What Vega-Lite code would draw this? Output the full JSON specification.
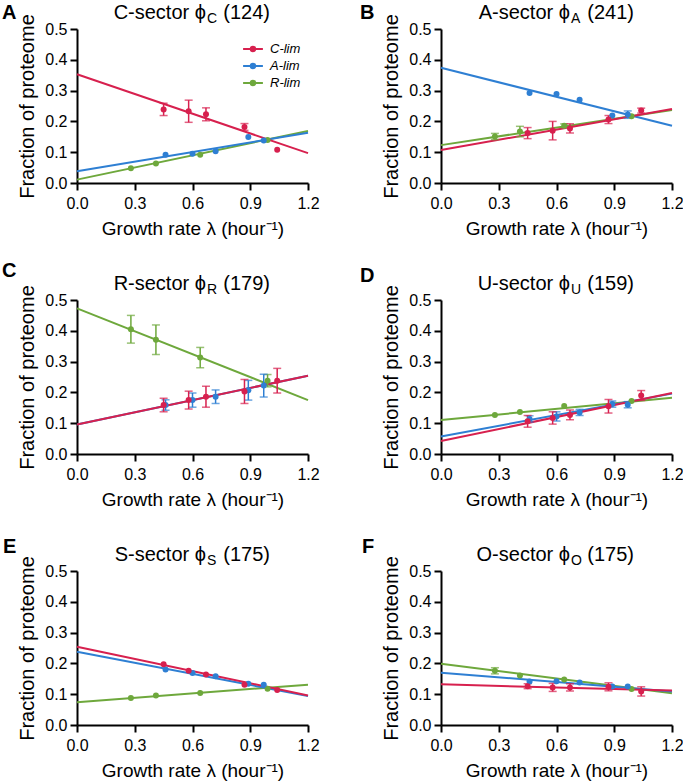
{
  "$schema": "https://vega.github.io/schema/vega-lite/v6.json",
  "padding": {"left": 2, "top": 3, "right": 2, "bottom": 2},
  "config": {
    "font": "Liberation Sans",
    "view": {"stroke": null},
    "axis": {"grid": false, "labelFlush": false, "labelOverlap": false, "domainColor": "black", "domainWidth": 2, "tickColor": "black", "tickWidth": 2, "tickSize": 7, "labelFont": "Liberation Sans", "labelFontSize": 16, "labelColor": "black", "titleFont": "Liberation Sans", "titleFontWeight": "normal", "titleColor": "black"},
    "axisX": {"titlePadding": 8, "titleFontSize": 19, "labelPadding": 5},
    "axisY": {"titlePadding": 7, "titleFontSize": 20, "labelPadding": 3},
    "title": {"anchor": "start", "frame": "group", "fontSize": 20, "fontWeight": "bold", "font": "Liberation Sans", "color": "black", "baseline": "alphabetic"},
    "text": {"font": "Liberation Sans", "color": "black"}
  },
  "datasets": {
    "pts": [
      {"panel": "A", "cond": "R-lim", "x": 0.28, "y": 0.048, "err": 0},
      {"panel": "A", "cond": "R-lim", "x": 0.41, "y": 0.063, "err": 0},
      {"panel": "A", "cond": "R-lim", "x": 0.64, "y": 0.092, "err": 0},
      {"panel": "A", "cond": "R-lim", "x": 0.99, "y": 0.14, "err": 0},
      {"panel": "A", "cond": "A-lim", "x": 0.46, "y": 0.092, "err": 0},
      {"panel": "A", "cond": "A-lim", "x": 0.6, "y": 0.095, "err": 0},
      {"panel": "A", "cond": "A-lim", "x": 0.72, "y": 0.103, "err": 0},
      {"panel": "A", "cond": "A-lim", "x": 0.89, "y": 0.149, "err": 0},
      {"panel": "A", "cond": "A-lim", "x": 0.97, "y": 0.138, "err": 0},
      {"panel": "A", "cond": "C-lim", "x": 0.45, "y": 0.239, "err": 0.02},
      {"panel": "A", "cond": "C-lim", "x": 0.58, "y": 0.233, "err": 0.036},
      {"panel": "A", "cond": "C-lim", "x": 0.67, "y": 0.223, "err": 0.021},
      {"panel": "A", "cond": "C-lim", "x": 0.87, "y": 0.182, "err": 0.011},
      {"panel": "A", "cond": "C-lim", "x": 1.04, "y": 0.108, "err": 0},

      {"panel": "B", "cond": "R-lim", "x": 0.28, "y": 0.151, "err": 0.01},
      {"panel": "B", "cond": "R-lim", "x": 0.41, "y": 0.167, "err": 0.017},
      {"panel": "B", "cond": "R-lim", "x": 0.64, "y": 0.186, "err": 0.006},
      {"panel": "B", "cond": "R-lim", "x": 0.99, "y": 0.217, "err": 0},
      {"panel": "B", "cond": "A-lim", "x": 0.46, "y": 0.292, "err": 0},
      {"panel": "B", "cond": "A-lim", "x": 0.6, "y": 0.289, "err": 0},
      {"panel": "B", "cond": "A-lim", "x": 0.72, "y": 0.27, "err": 0},
      {"panel": "B", "cond": "A-lim", "x": 0.89, "y": 0.219, "err": 0},
      {"panel": "B", "cond": "A-lim", "x": 0.97, "y": 0.222, "err": 0.012},
      {"panel": "B", "cond": "C-lim", "x": 0.45, "y": 0.162, "err": 0.018},
      {"panel": "B", "cond": "C-lim", "x": 0.58, "y": 0.17, "err": 0.03},
      {"panel": "B", "cond": "C-lim", "x": 0.67, "y": 0.177, "err": 0.015},
      {"panel": "B", "cond": "C-lim", "x": 0.87, "y": 0.206, "err": 0.013},
      {"panel": "B", "cond": "C-lim", "x": 1.04, "y": 0.235, "err": 0.008},

      {"panel": "C", "cond": "R-lim", "x": 0.28, "y": 0.405, "err": 0.045},
      {"panel": "C", "cond": "R-lim", "x": 0.41, "y": 0.371, "err": 0.048},
      {"panel": "C", "cond": "R-lim", "x": 0.64, "y": 0.313, "err": 0.033},
      {"panel": "C", "cond": "R-lim", "x": 0.99, "y": 0.238, "err": 0.02},
      {"panel": "C", "cond": "A-lim", "x": 0.46, "y": 0.159, "err": 0.017},
      {"panel": "C", "cond": "A-lim", "x": 0.6, "y": 0.175, "err": 0.023},
      {"panel": "C", "cond": "A-lim", "x": 0.72, "y": 0.186, "err": 0.022},
      {"panel": "C", "cond": "A-lim", "x": 0.89, "y": 0.207, "err": 0.032},
      {"panel": "C", "cond": "A-lim", "x": 0.97, "y": 0.222, "err": 0.037},
      {"panel": "C", "cond": "C-lim", "x": 0.45, "y": 0.159, "err": 0.022},
      {"panel": "C", "cond": "C-lim", "x": 0.58, "y": 0.175, "err": 0.029},
      {"panel": "C", "cond": "C-lim", "x": 0.67, "y": 0.186, "err": 0.034},
      {"panel": "C", "cond": "C-lim", "x": 0.87, "y": 0.203, "err": 0.039},
      {"panel": "C", "cond": "C-lim", "x": 1.04, "y": 0.238, "err": 0.04},

      {"panel": "D", "cond": "R-lim", "x": 0.28, "y": 0.127, "err": 0},
      {"panel": "D", "cond": "R-lim", "x": 0.41, "y": 0.136, "err": 0},
      {"panel": "D", "cond": "R-lim", "x": 0.64, "y": 0.156, "err": 0},
      {"panel": "D", "cond": "R-lim", "x": 0.99, "y": 0.172, "err": 0},
      {"panel": "D", "cond": "A-lim", "x": 0.46, "y": 0.114, "err": 0.01},
      {"panel": "D", "cond": "A-lim", "x": 0.6, "y": 0.122, "err": 0.015},
      {"panel": "D", "cond": "A-lim", "x": 0.72, "y": 0.135, "err": 0.01},
      {"panel": "D", "cond": "A-lim", "x": 0.89, "y": 0.162, "err": 0.01},
      {"panel": "D", "cond": "A-lim", "x": 0.97, "y": 0.16, "err": 0.01},
      {"panel": "D", "cond": "C-lim", "x": 0.45, "y": 0.106, "err": 0.019},
      {"panel": "D", "cond": "C-lim", "x": 0.58, "y": 0.117, "err": 0.02},
      {"panel": "D", "cond": "C-lim", "x": 0.67, "y": 0.127, "err": 0.016},
      {"panel": "D", "cond": "C-lim", "x": 0.87, "y": 0.155, "err": 0.022},
      {"panel": "D", "cond": "C-lim", "x": 1.04, "y": 0.19, "err": 0.016},

      {"panel": "E", "cond": "R-lim", "x": 0.28, "y": 0.088, "err": 0},
      {"panel": "E", "cond": "R-lim", "x": 0.41, "y": 0.096, "err": 0},
      {"panel": "E", "cond": "R-lim", "x": 0.64, "y": 0.104, "err": 0},
      {"panel": "E", "cond": "R-lim", "x": 0.99, "y": 0.118, "err": 0},
      {"panel": "E", "cond": "A-lim", "x": 0.46, "y": 0.18, "err": 0},
      {"panel": "E", "cond": "A-lim", "x": 0.6, "y": 0.169, "err": 0},
      {"panel": "E", "cond": "A-lim", "x": 0.72, "y": 0.158, "err": 0},
      {"panel": "E", "cond": "A-lim", "x": 0.89, "y": 0.134, "err": 0},
      {"panel": "E", "cond": "A-lim", "x": 0.97, "y": 0.131, "err": 0},
      {"panel": "E", "cond": "C-lim", "x": 0.45, "y": 0.197, "err": 0},
      {"panel": "E", "cond": "C-lim", "x": 0.58, "y": 0.176, "err": 0},
      {"panel": "E", "cond": "C-lim", "x": 0.67, "y": 0.164, "err": 0},
      {"panel": "E", "cond": "C-lim", "x": 0.87, "y": 0.131, "err": 0},
      {"panel": "E", "cond": "C-lim", "x": 1.04, "y": 0.114, "err": 0},

      {"panel": "F", "cond": "R-lim", "x": 0.28, "y": 0.176, "err": 0.01},
      {"panel": "F", "cond": "R-lim", "x": 0.41, "y": 0.161, "err": 0},
      {"panel": "F", "cond": "R-lim", "x": 0.64, "y": 0.148, "err": 0},
      {"panel": "F", "cond": "R-lim", "x": 0.99, "y": 0.117, "err": 0},
      {"panel": "F", "cond": "A-lim", "x": 0.46, "y": 0.141, "err": 0},
      {"panel": "F", "cond": "A-lim", "x": 0.6, "y": 0.142, "err": 0},
      {"panel": "F", "cond": "A-lim", "x": 0.72, "y": 0.138, "err": 0},
      {"panel": "F", "cond": "A-lim", "x": 0.89, "y": 0.125, "err": 0},
      {"panel": "F", "cond": "A-lim", "x": 0.97, "y": 0.125, "err": 0},
      {"panel": "F", "cond": "C-lim", "x": 0.45, "y": 0.126, "err": 0.008},
      {"panel": "F", "cond": "C-lim", "x": 0.58, "y": 0.122, "err": 0.013},
      {"panel": "F", "cond": "C-lim", "x": 0.67, "y": 0.122, "err": 0.012},
      {"panel": "F", "cond": "C-lim", "x": 0.87, "y": 0.124, "err": 0.013},
      {"panel": "F", "cond": "C-lim", "x": 1.04, "y": 0.109, "err": 0.015}
    ],
    "fits": [
      {"panel": "A", "cond": "R-lim", "x": 0, "y": 0.011}, {"panel": "A", "cond": "R-lim", "x": 1.2, "y": 0.169},
      {"panel": "A", "cond": "A-lim", "x": 0, "y": 0.038}, {"panel": "A", "cond": "A-lim", "x": 1.2, "y": 0.163},
      {"panel": "A", "cond": "C-lim", "x": 0, "y": 0.353}, {"panel": "A", "cond": "C-lim", "x": 1.2, "y": 0.097},
      {"panel": "B", "cond": "R-lim", "x": 0, "y": 0.123}, {"panel": "B", "cond": "R-lim", "x": 1.2, "y": 0.237},
      {"panel": "B", "cond": "A-lim", "x": 0, "y": 0.374}, {"panel": "B", "cond": "A-lim", "x": 1.2, "y": 0.186},
      {"panel": "B", "cond": "C-lim", "x": 0, "y": 0.107}, {"panel": "B", "cond": "C-lim", "x": 1.2, "y": 0.24},
      {"panel": "C", "cond": "R-lim", "x": 0, "y": 0.473}, {"panel": "C", "cond": "R-lim", "x": 1.2, "y": 0.175},
      {"panel": "C", "cond": "A-lim", "x": 0, "y": 0.096}, {"panel": "C", "cond": "A-lim", "x": 1.2, "y": 0.254},
      {"panel": "C", "cond": "C-lim", "x": 0, "y": 0.096}, {"panel": "C", "cond": "C-lim", "x": 1.2, "y": 0.254},
      {"panel": "D", "cond": "R-lim", "x": 0, "y": 0.11}, {"panel": "D", "cond": "R-lim", "x": 1.2, "y": 0.183},
      {"panel": "D", "cond": "A-lim", "x": 0, "y": 0.057}, {"panel": "D", "cond": "A-lim", "x": 1.2, "y": 0.196},
      {"panel": "D", "cond": "C-lim", "x": 0, "y": 0.042}, {"panel": "D", "cond": "C-lim", "x": 1.2, "y": 0.198},
      {"panel": "E", "cond": "R-lim", "x": 0, "y": 0.074}, {"panel": "E", "cond": "R-lim", "x": 1.2, "y": 0.131},
      {"panel": "E", "cond": "A-lim", "x": 0, "y": 0.238}, {"panel": "E", "cond": "A-lim", "x": 1.2, "y": 0.094},
      {"panel": "E", "cond": "C-lim", "x": 0, "y": 0.254}, {"panel": "E", "cond": "C-lim", "x": 1.2, "y": 0.096},
      {"panel": "F", "cond": "R-lim", "x": 0, "y": 0.199}, {"panel": "F", "cond": "R-lim", "x": 1.2, "y": 0.103},
      {"panel": "F", "cond": "A-lim", "x": 0, "y": 0.17}, {"panel": "F", "cond": "A-lim", "x": 1.2, "y": 0.109},
      {"panel": "F", "cond": "C-lim", "x": 0, "y": 0.132}, {"panel": "F", "cond": "C-lim", "x": 1.2, "y": 0.112}
    ],
    "heads": [
      {"panel": "A", "name": "C-sector ϕ", "sub": "C", "n": "(124)"},
      {"panel": "B", "name": "A-sector ϕ", "sub": "A", "n": "(241)"},
      {"panel": "C", "name": "R-sector ϕ", "sub": "R", "n": "(179)"},
      {"panel": "D", "name": "U-sector ϕ", "sub": "U", "n": "(159)"},
      {"panel": "E", "name": "S-sector ϕ", "sub": "S", "n": "(175)"},
      {"panel": "F", "name": "O-sector ϕ", "sub": "O", "n": "(175)"}
    ]
  },
  "columns": 2,
  "bounds": "flush",
  "spacing": {"column": 133, "row": 117},
  "concat": [
    {
      "width": 231, "height": 154,
      "title": {"text": "A", "dx": -75, "offset": -20},
      "layer": [
        {"data": {"name": "fits"}, "transform": [{"filter": "datum.panel === 'A'"}], "mark": {"type": "line", "strokeWidth": 2}, "encoding": {
          "x": {"field": "x", "type": "quantitative", "scale": {"domain": [0, 1.2], "nice": false, "zero": false}, "axis": {"values": [0, 0.3, 0.6, 0.9, 1.2], "format": ".1f", "title": "Growth rate λ (hour⁻¹)"}},
          "y": {"field": "y", "type": "quantitative", "scale": {"domain": [0, 0.5], "nice": false}, "axis": {"values": [0, 0.1, 0.2, 0.3, 0.4, 0.5], "format": ".1f", "title": "Fraction of proteome"}},
          "color": {"field": "cond", "type": "nominal", "scale": {"domain": ["C-lim", "A-lim", "R-lim"], "range": ["#d7204e", "#2e7fd3", "#6ea83c"]}, "legend": {"title": null, "orient": "none", "legendX": 166, "legendY": 10, "padding": 0, "symbolType": "M-1.1,0H1.1M0.25,0A0.25,0.25,0,1,1,-0.25,0A0.25,0.25,0,1,1,0.25,0Z", "symbolSize": 324, "symbolStrokeWidth": 2, "labelFont": "Liberation Sans", "labelFontSize": 13, "labelFontStyle": "italic", "labelColor": "black", "labelOffset": 7, "rowPadding": 0}}}},
        {"data": {"name": "pts"}, "transform": [{"filter": "datum.panel === 'A' && datum.err > 0"}], "mark": {"type": "errorbar", "ticks": {"size": 8}, "thickness": 1.5}, "encoding": {"x": {"field": "x", "type": "quantitative", "scale": {"domain": [0, 1.2], "nice": false, "zero": false}, "axis": {"values": [0, 0.3, 0.6, 0.9, 1.2], "format": ".1f", "title": "Growth rate λ (hour⁻¹)"}}, "y": {"field": "y", "type": "quantitative", "scale": {"domain": [0, 0.5], "nice": false}, "axis": {"values": [0, 0.1, 0.2, 0.3, 0.4, 0.5], "format": ".1f", "title": "Fraction of proteome"}}, "yError": {"field": "err"}, "color": {"field": "cond", "type": "nominal", "legend": null}}},
        {"data": {"name": "pts"}, "transform": [{"filter": "datum.panel === 'A'"}], "mark": {"type": "point", "filled": true, "size": 36, "opacity": 1}, "encoding": {"x": {"field": "x", "type": "quantitative", "scale": {"domain": [0, 1.2], "nice": false, "zero": false}, "axis": {"values": [0, 0.3, 0.6, 0.9, 1.2], "format": ".1f", "title": "Growth rate λ (hour⁻¹)"}}, "y": {"field": "y", "type": "quantitative", "scale": {"domain": [0, 0.5], "nice": false}, "axis": {"values": [0, 0.1, 0.2, 0.3, 0.4, 0.5], "format": ".1f", "title": "Fraction of proteome"}}, "color": {"field": "cond", "type": "nominal", "legend": null}}},
        {"data": {"name": "heads"}, "transform": [{"filter": "datum.panel === 'A'"}], "mark": {"type": "text", "align": "right", "baseline": "alphabetic", "fontSize": 20, "clip": false}, "encoding": {"x": {"datum": 0.67, "type": "quantitative", "scale": {"domain": [0, 1.2], "nice": false, "zero": false}, "axis": {"values": [0, 0.3, 0.6, 0.9, 1.2], "format": ".1f", "title": "Growth rate λ (hour⁻¹)"}}, "y": {"datum": 0.531, "type": "quantitative", "scale": {"domain": [0, 0.5], "nice": false}, "axis": {"values": [0, 0.1, 0.2, 0.3, 0.4, 0.5], "format": ".1f", "title": "Fraction of proteome"}}, "text": {"field": "name", "type": "nominal"}}},
        {"data": {"name": "heads"}, "transform": [{"filter": "datum.panel === 'A'"}], "mark": {"type": "text", "align": "left", "baseline": "alphabetic", "fontSize": 14, "dx": 1, "dy": 4, "clip": false}, "encoding": {"x": {"datum": 0.67, "type": "quantitative", "scale": {"domain": [0, 1.2], "nice": false, "zero": false}, "axis": {"values": [0, 0.3, 0.6, 0.9, 1.2], "format": ".1f", "title": "Growth rate λ (hour⁻¹)"}}, "y": {"datum": 0.531, "type": "quantitative", "scale": {"domain": [0, 0.5], "nice": false}, "axis": {"values": [0, 0.1, 0.2, 0.3, 0.4, 0.5], "format": ".1f", "title": "Fraction of proteome"}}, "text": {"field": "sub", "type": "nominal"}}},
        {"data": {"name": "heads"}, "transform": [{"filter": "datum.panel === 'A'"}], "mark": {"type": "text", "align": "left", "baseline": "alphabetic", "fontSize": 20, "clip": false}, "encoding": {"x": {"datum": 0.76, "type": "quantitative", "scale": {"domain": [0, 1.2], "nice": false, "zero": false}, "axis": {"values": [0, 0.3, 0.6, 0.9, 1.2], "format": ".1f", "title": "Growth rate λ (hour⁻¹)"}}, "y": {"datum": 0.531, "type": "quantitative", "scale": {"domain": [0, 0.5], "nice": false}, "axis": {"values": [0, 0.1, 0.2, 0.3, 0.4, 0.5], "format": ".1f", "title": "Fraction of proteome"}}, "text": {"field": "n", "type": "nominal"}}}
      ]
    },
    {
      "width": 231, "height": 154,
      "title": {"text": "B", "dx": -81, "offset": -20},
      "layer": [
        {"data": {"name": "fits"}, "transform": [{"filter": "datum.panel === 'B'"}], "mark": {"type": "line", "strokeWidth": 2}, "encoding": {
          "x": {"field": "x", "type": "quantitative", "scale": {"domain": [0, 1.2], "nice": false, "zero": false}, "axis": {"values": [0, 0.3, 0.6, 0.9, 1.2], "format": ".1f", "title": "Growth rate λ (hour⁻¹)"}},
          "y": {"field": "y", "type": "quantitative", "scale": {"domain": [0, 0.5], "nice": false}, "axis": {"values": [0, 0.1, 0.2, 0.3, 0.4, 0.5], "format": ".1f", "title": "Fraction of proteome"}},
          "color": {"field": "cond", "type": "nominal", "scale": {"domain": ["C-lim", "A-lim", "R-lim"], "range": ["#d7204e", "#2e7fd3", "#6ea83c"]}, "legend": null}}},
        {"data": {"name": "pts"}, "transform": [{"filter": "datum.panel === 'B' && datum.err > 0"}], "mark": {"type": "errorbar", "ticks": {"size": 8}, "thickness": 1.5}, "encoding": {"x": {"field": "x", "type": "quantitative", "scale": {"domain": [0, 1.2], "nice": false, "zero": false}, "axis": {"values": [0, 0.3, 0.6, 0.9, 1.2], "format": ".1f", "title": "Growth rate λ (hour⁻¹)"}}, "y": {"field": "y", "type": "quantitative", "scale": {"domain": [0, 0.5], "nice": false}, "axis": {"values": [0, 0.1, 0.2, 0.3, 0.4, 0.5], "format": ".1f", "title": "Fraction of proteome"}}, "yError": {"field": "err"}, "color": {"field": "cond", "type": "nominal", "legend": null}}},
        {"data": {"name": "pts"}, "transform": [{"filter": "datum.panel === 'B'"}], "mark": {"type": "point", "filled": true, "size": 36, "opacity": 1}, "encoding": {"x": {"field": "x", "type": "quantitative", "scale": {"domain": [0, 1.2], "nice": false, "zero": false}, "axis": {"values": [0, 0.3, 0.6, 0.9, 1.2], "format": ".1f", "title": "Growth rate λ (hour⁻¹)"}}, "y": {"field": "y", "type": "quantitative", "scale": {"domain": [0, 0.5], "nice": false}, "axis": {"values": [0, 0.1, 0.2, 0.3, 0.4, 0.5], "format": ".1f", "title": "Fraction of proteome"}}, "color": {"field": "cond", "type": "nominal", "legend": null}}},
        {"data": {"name": "heads"}, "transform": [{"filter": "datum.panel === 'B'"}], "mark": {"type": "text", "align": "right", "baseline": "alphabetic", "fontSize": 20, "clip": false}, "encoding": {"x": {"datum": 0.67, "type": "quantitative", "scale": {"domain": [0, 1.2], "nice": false, "zero": false}, "axis": {"values": [0, 0.3, 0.6, 0.9, 1.2], "format": ".1f", "title": "Growth rate λ (hour⁻¹)"}}, "y": {"datum": 0.531, "type": "quantitative", "scale": {"domain": [0, 0.5], "nice": false}, "axis": {"values": [0, 0.1, 0.2, 0.3, 0.4, 0.5], "format": ".1f", "title": "Fraction of proteome"}}, "text": {"field": "name", "type": "nominal"}}},
        {"data": {"name": "heads"}, "transform": [{"filter": "datum.panel === 'B'"}], "mark": {"type": "text", "align": "left", "baseline": "alphabetic", "fontSize": 14, "dx": 1, "dy": 4, "clip": false}, "encoding": {"x": {"datum": 0.67, "type": "quantitative", "scale": {"domain": [0, 1.2], "nice": false, "zero": false}, "axis": {"values": [0, 0.3, 0.6, 0.9, 1.2], "format": ".1f", "title": "Growth rate λ (hour⁻¹)"}}, "y": {"datum": 0.531, "type": "quantitative", "scale": {"domain": [0, 0.5], "nice": false}, "axis": {"values": [0, 0.1, 0.2, 0.3, 0.4, 0.5], "format": ".1f", "title": "Fraction of proteome"}}, "text": {"field": "sub", "type": "nominal"}}},
        {"data": {"name": "heads"}, "transform": [{"filter": "datum.panel === 'B'"}], "mark": {"type": "text", "align": "left", "baseline": "alphabetic", "fontSize": 20, "clip": false}, "encoding": {"x": {"datum": 0.76, "type": "quantitative", "scale": {"domain": [0, 1.2], "nice": false, "zero": false}, "axis": {"values": [0, 0.3, 0.6, 0.9, 1.2], "format": ".1f", "title": "Growth rate λ (hour⁻¹)"}}, "y": {"datum": 0.531, "type": "quantitative", "scale": {"domain": [0, 0.5], "nice": false}, "axis": {"values": [0, 0.1, 0.2, 0.3, 0.4, 0.5], "format": ".1f", "title": "Fraction of proteome"}}, "text": {"field": "n", "type": "nominal"}}}
      ]
    },
    {
      "width": 231, "height": 154,
      "title": {"text": "C", "dx": -75, "offset": -7},
      "layer": [
        {"data": {"name": "fits"}, "transform": [{"filter": "datum.panel === 'C'"}], "mark": {"type": "line", "strokeWidth": 2}, "encoding": {
          "x": {"field": "x", "type": "quantitative", "scale": {"domain": [0, 1.2], "nice": false, "zero": false}, "axis": {"values": [0, 0.3, 0.6, 0.9, 1.2], "format": ".1f", "title": "Growth rate λ (hour⁻¹)"}},
          "y": {"field": "y", "type": "quantitative", "scale": {"domain": [0, 0.5], "nice": false}, "axis": {"values": [0, 0.1, 0.2, 0.3, 0.4, 0.5], "format": ".1f", "title": "Fraction of proteome"}},
          "color": {"field": "cond", "type": "nominal", "scale": {"domain": ["C-lim", "A-lim", "R-lim"], "range": ["#d7204e", "#2e7fd3", "#6ea83c"]}, "legend": null}}},
        {"data": {"name": "pts"}, "transform": [{"filter": "datum.panel === 'C' && datum.err > 0"}], "mark": {"type": "errorbar", "ticks": {"size": 8}, "thickness": 1.5}, "encoding": {"x": {"field": "x", "type": "quantitative", "scale": {"domain": [0, 1.2], "nice": false, "zero": false}, "axis": {"values": [0, 0.3, 0.6, 0.9, 1.2], "format": ".1f", "title": "Growth rate λ (hour⁻¹)"}}, "y": {"field": "y", "type": "quantitative", "scale": {"domain": [0, 0.5], "nice": false}, "axis": {"values": [0, 0.1, 0.2, 0.3, 0.4, 0.5], "format": ".1f", "title": "Fraction of proteome"}}, "yError": {"field": "err"}, "color": {"field": "cond", "type": "nominal", "legend": null}}},
        {"data": {"name": "pts"}, "transform": [{"filter": "datum.panel === 'C'"}], "mark": {"type": "point", "filled": true, "size": 36, "opacity": 1}, "encoding": {"x": {"field": "x", "type": "quantitative", "scale": {"domain": [0, 1.2], "nice": false, "zero": false}, "axis": {"values": [0, 0.3, 0.6, 0.9, 1.2], "format": ".1f", "title": "Growth rate λ (hour⁻¹)"}}, "y": {"field": "y", "type": "quantitative", "scale": {"domain": [0, 0.5], "nice": false}, "axis": {"values": [0, 0.1, 0.2, 0.3, 0.4, 0.5], "format": ".1f", "title": "Fraction of proteome"}}, "color": {"field": "cond", "type": "nominal", "legend": null}}},
        {"data": {"name": "heads"}, "transform": [{"filter": "datum.panel === 'C'"}], "mark": {"type": "text", "align": "right", "baseline": "alphabetic", "fontSize": 20, "clip": false}, "encoding": {"x": {"datum": 0.67, "type": "quantitative", "scale": {"domain": [0, 1.2], "nice": false, "zero": false}, "axis": {"values": [0, 0.3, 0.6, 0.9, 1.2], "format": ".1f", "title": "Growth rate λ (hour⁻¹)"}}, "y": {"datum": 0.531, "type": "quantitative", "scale": {"domain": [0, 0.5], "nice": false}, "axis": {"values": [0, 0.1, 0.2, 0.3, 0.4, 0.5], "format": ".1f", "title": "Fraction of proteome"}}, "text": {"field": "name", "type": "nominal"}}},
        {"data": {"name": "heads"}, "transform": [{"filter": "datum.panel === 'C'"}], "mark": {"type": "text", "align": "left", "baseline": "alphabetic", "fontSize": 14, "dx": 1, "dy": 4, "clip": false}, "encoding": {"x": {"datum": 0.67, "type": "quantitative", "scale": {"domain": [0, 1.2], "nice": false, "zero": false}, "axis": {"values": [0, 0.3, 0.6, 0.9, 1.2], "format": ".1f", "title": "Growth rate λ (hour⁻¹)"}}, "y": {"datum": 0.531, "type": "quantitative", "scale": {"domain": [0, 0.5], "nice": false}, "axis": {"values": [0, 0.1, 0.2, 0.3, 0.4, 0.5], "format": ".1f", "title": "Fraction of proteome"}}, "text": {"field": "sub", "type": "nominal"}}},
        {"data": {"name": "heads"}, "transform": [{"filter": "datum.panel === 'C'"}], "mark": {"type": "text", "align": "left", "baseline": "alphabetic", "fontSize": 20, "clip": false}, "encoding": {"x": {"datum": 0.76, "type": "quantitative", "scale": {"domain": [0, 1.2], "nice": false, "zero": false}, "axis": {"values": [0, 0.3, 0.6, 0.9, 1.2], "format": ".1f", "title": "Growth rate λ (hour⁻¹)"}}, "y": {"datum": 0.531, "type": "quantitative", "scale": {"domain": [0, 0.5], "nice": false}, "axis": {"values": [0, 0.1, 0.2, 0.3, 0.4, 0.5], "format": ".1f", "title": "Fraction of proteome"}}, "text": {"field": "n", "type": "nominal"}}}
      ]
    },
    {
      "width": 231, "height": 154,
      "title": {"text": "D", "dx": -81, "offset": -12},
      "layer": [
        {"data": {"name": "fits"}, "transform": [{"filter": "datum.panel === 'D'"}], "mark": {"type": "line", "strokeWidth": 2}, "encoding": {
          "x": {"field": "x", "type": "quantitative", "scale": {"domain": [0, 1.2], "nice": false, "zero": false}, "axis": {"values": [0, 0.3, 0.6, 0.9, 1.2], "format": ".1f", "title": "Growth rate λ (hour⁻¹)"}},
          "y": {"field": "y", "type": "quantitative", "scale": {"domain": [0, 0.5], "nice": false}, "axis": {"values": [0, 0.1, 0.2, 0.3, 0.4, 0.5], "format": ".1f", "title": "Fraction of proteome"}},
          "color": {"field": "cond", "type": "nominal", "scale": {"domain": ["C-lim", "A-lim", "R-lim"], "range": ["#d7204e", "#2e7fd3", "#6ea83c"]}, "legend": null}}},
        {"data": {"name": "pts"}, "transform": [{"filter": "datum.panel === 'D' && datum.err > 0"}], "mark": {"type": "errorbar", "ticks": {"size": 8}, "thickness": 1.5}, "encoding": {"x": {"field": "x", "type": "quantitative", "scale": {"domain": [0, 1.2], "nice": false, "zero": false}, "axis": {"values": [0, 0.3, 0.6, 0.9, 1.2], "format": ".1f", "title": "Growth rate λ (hour⁻¹)"}}, "y": {"field": "y", "type": "quantitative", "scale": {"domain": [0, 0.5], "nice": false}, "axis": {"values": [0, 0.1, 0.2, 0.3, 0.4, 0.5], "format": ".1f", "title": "Fraction of proteome"}}, "yError": {"field": "err"}, "color": {"field": "cond", "type": "nominal", "legend": null}}},
        {"data": {"name": "pts"}, "transform": [{"filter": "datum.panel === 'D'"}], "mark": {"type": "point", "filled": true, "size": 36, "opacity": 1}, "encoding": {"x": {"field": "x", "type": "quantitative", "scale": {"domain": [0, 1.2], "nice": false, "zero": false}, "axis": {"values": [0, 0.3, 0.6, 0.9, 1.2], "format": ".1f", "title": "Growth rate λ (hour⁻¹)"}}, "y": {"field": "y", "type": "quantitative", "scale": {"domain": [0, 0.5], "nice": false}, "axis": {"values": [0, 0.1, 0.2, 0.3, 0.4, 0.5], "format": ".1f", "title": "Fraction of proteome"}}, "color": {"field": "cond", "type": "nominal", "legend": null}}},
        {"data": {"name": "heads"}, "transform": [{"filter": "datum.panel === 'D'"}], "mark": {"type": "text", "align": "right", "baseline": "alphabetic", "fontSize": 20, "clip": false}, "encoding": {"x": {"datum": 0.67, "type": "quantitative", "scale": {"domain": [0, 1.2], "nice": false, "zero": false}, "axis": {"values": [0, 0.3, 0.6, 0.9, 1.2], "format": ".1f", "title": "Growth rate λ (hour⁻¹)"}}, "y": {"datum": 0.531, "type": "quantitative", "scale": {"domain": [0, 0.5], "nice": false}, "axis": {"values": [0, 0.1, 0.2, 0.3, 0.4, 0.5], "format": ".1f", "title": "Fraction of proteome"}}, "text": {"field": "name", "type": "nominal"}}},
        {"data": {"name": "heads"}, "transform": [{"filter": "datum.panel === 'D'"}], "mark": {"type": "text", "align": "left", "baseline": "alphabetic", "fontSize": 14, "dx": 1, "dy": 4, "clip": false}, "encoding": {"x": {"datum": 0.67, "type": "quantitative", "scale": {"domain": [0, 1.2], "nice": false, "zero": false}, "axis": {"values": [0, 0.3, 0.6, 0.9, 1.2], "format": ".1f", "title": "Growth rate λ (hour⁻¹)"}}, "y": {"datum": 0.531, "type": "quantitative", "scale": {"domain": [0, 0.5], "nice": false}, "axis": {"values": [0, 0.1, 0.2, 0.3, 0.4, 0.5], "format": ".1f", "title": "Fraction of proteome"}}, "text": {"field": "sub", "type": "nominal"}}},
        {"data": {"name": "heads"}, "transform": [{"filter": "datum.panel === 'D'"}], "mark": {"type": "text", "align": "left", "baseline": "alphabetic", "fontSize": 20, "clip": false}, "encoding": {"x": {"datum": 0.76, "type": "quantitative", "scale": {"domain": [0, 1.2], "nice": false, "zero": false}, "axis": {"values": [0, 0.3, 0.6, 0.9, 1.2], "format": ".1f", "title": "Growth rate λ (hour⁻¹)"}}, "y": {"datum": 0.531, "type": "quantitative", "scale": {"domain": [0, 0.5], "nice": false}, "axis": {"values": [0, 0.1, 0.2, 0.3, 0.4, 0.5], "format": ".1f", "title": "Fraction of proteome"}}, "text": {"field": "n", "type": "nominal"}}}
      ]
    },
    {
      "width": 231, "height": 154,
      "title": {"text": "E", "dx": -74, "offset": -12},
      "layer": [
        {"data": {"name": "fits"}, "transform": [{"filter": "datum.panel === 'E'"}], "mark": {"type": "line", "strokeWidth": 2}, "encoding": {
          "x": {"field": "x", "type": "quantitative", "scale": {"domain": [0, 1.2], "nice": false, "zero": false}, "axis": {"values": [0, 0.3, 0.6, 0.9, 1.2], "format": ".1f", "title": "Growth rate λ (hour⁻¹)"}},
          "y": {"field": "y", "type": "quantitative", "scale": {"domain": [0, 0.5], "nice": false}, "axis": {"values": [0, 0.1, 0.2, 0.3, 0.4, 0.5], "format": ".1f", "title": "Fraction of proteome"}},
          "color": {"field": "cond", "type": "nominal", "scale": {"domain": ["C-lim", "A-lim", "R-lim"], "range": ["#d7204e", "#2e7fd3", "#6ea83c"]}, "legend": null}}},
        {"data": {"name": "pts"}, "transform": [{"filter": "datum.panel === 'E' && datum.err > 0"}], "mark": {"type": "errorbar", "ticks": {"size": 8}, "thickness": 1.5}, "encoding": {"x": {"field": "x", "type": "quantitative", "scale": {"domain": [0, 1.2], "nice": false, "zero": false}, "axis": {"values": [0, 0.3, 0.6, 0.9, 1.2], "format": ".1f", "title": "Growth rate λ (hour⁻¹)"}}, "y": {"field": "y", "type": "quantitative", "scale": {"domain": [0, 0.5], "nice": false}, "axis": {"values": [0, 0.1, 0.2, 0.3, 0.4, 0.5], "format": ".1f", "title": "Fraction of proteome"}}, "yError": {"field": "err"}, "color": {"field": "cond", "type": "nominal", "legend": null}}},
        {"data": {"name": "pts"}, "transform": [{"filter": "datum.panel === 'E'"}], "mark": {"type": "point", "filled": true, "size": 36, "opacity": 1}, "encoding": {"x": {"field": "x", "type": "quantitative", "scale": {"domain": [0, 1.2], "nice": false, "zero": false}, "axis": {"values": [0, 0.3, 0.6, 0.9, 1.2], "format": ".1f", "title": "Growth rate λ (hour⁻¹)"}}, "y": {"field": "y", "type": "quantitative", "scale": {"domain": [0, 0.5], "nice": false}, "axis": {"values": [0, 0.1, 0.2, 0.3, 0.4, 0.5], "format": ".1f", "title": "Fraction of proteome"}}, "color": {"field": "cond", "type": "nominal", "legend": null}}},
        {"data": {"name": "heads"}, "transform": [{"filter": "datum.panel === 'E'"}], "mark": {"type": "text", "align": "right", "baseline": "alphabetic", "fontSize": 20, "clip": false}, "encoding": {"x": {"datum": 0.67, "type": "quantitative", "scale": {"domain": [0, 1.2], "nice": false, "zero": false}, "axis": {"values": [0, 0.3, 0.6, 0.9, 1.2], "format": ".1f", "title": "Growth rate λ (hour⁻¹)"}}, "y": {"datum": 0.531, "type": "quantitative", "scale": {"domain": [0, 0.5], "nice": false}, "axis": {"values": [0, 0.1, 0.2, 0.3, 0.4, 0.5], "format": ".1f", "title": "Fraction of proteome"}}, "text": {"field": "name", "type": "nominal"}}},
        {"data": {"name": "heads"}, "transform": [{"filter": "datum.panel === 'E'"}], "mark": {"type": "text", "align": "left", "baseline": "alphabetic", "fontSize": 14, "dx": 1, "dy": 4, "clip": false}, "encoding": {"x": {"datum": 0.67, "type": "quantitative", "scale": {"domain": [0, 1.2], "nice": false, "zero": false}, "axis": {"values": [0, 0.3, 0.6, 0.9, 1.2], "format": ".1f", "title": "Growth rate λ (hour⁻¹)"}}, "y": {"datum": 0.531, "type": "quantitative", "scale": {"domain": [0, 0.5], "nice": false}, "axis": {"values": [0, 0.1, 0.2, 0.3, 0.4, 0.5], "format": ".1f", "title": "Fraction of proteome"}}, "text": {"field": "sub", "type": "nominal"}}},
        {"data": {"name": "heads"}, "transform": [{"filter": "datum.panel === 'E'"}], "mark": {"type": "text", "align": "left", "baseline": "alphabetic", "fontSize": 20, "clip": false}, "encoding": {"x": {"datum": 0.76, "type": "quantitative", "scale": {"domain": [0, 1.2], "nice": false, "zero": false}, "axis": {"values": [0, 0.3, 0.6, 0.9, 1.2], "format": ".1f", "title": "Growth rate λ (hour⁻¹)"}}, "y": {"datum": 0.531, "type": "quantitative", "scale": {"domain": [0, 0.5], "nice": false}, "axis": {"values": [0, 0.1, 0.2, 0.3, 0.4, 0.5], "format": ".1f", "title": "Fraction of proteome"}}, "text": {"field": "n", "type": "nominal"}}}
      ]
    },
    {
      "width": 231, "height": 154,
      "title": {"text": "F", "dx": -79, "offset": -12},
      "layer": [
        {"data": {"name": "fits"}, "transform": [{"filter": "datum.panel === 'F'"}], "mark": {"type": "line", "strokeWidth": 2}, "encoding": {
          "x": {"field": "x", "type": "quantitative", "scale": {"domain": [0, 1.2], "nice": false, "zero": false}, "axis": {"values": [0, 0.3, 0.6, 0.9, 1.2], "format": ".1f", "title": "Growth rate λ (hour⁻¹)"}},
          "y": {"field": "y", "type": "quantitative", "scale": {"domain": [0, 0.5], "nice": false}, "axis": {"values": [0, 0.1, 0.2, 0.3, 0.4, 0.5], "format": ".1f", "title": "Fraction of proteome"}},
          "color": {"field": "cond", "type": "nominal", "scale": {"domain": ["C-lim", "A-lim", "R-lim"], "range": ["#d7204e", "#2e7fd3", "#6ea83c"]}, "legend": null}}},
        {"data": {"name": "pts"}, "transform": [{"filter": "datum.panel === 'F' && datum.err > 0"}], "mark": {"type": "errorbar", "ticks": {"size": 8}, "thickness": 1.5}, "encoding": {"x": {"field": "x", "type": "quantitative", "scale": {"domain": [0, 1.2], "nice": false, "zero": false}, "axis": {"values": [0, 0.3, 0.6, 0.9, 1.2], "format": ".1f", "title": "Growth rate λ (hour⁻¹)"}}, "y": {"field": "y", "type": "quantitative", "scale": {"domain": [0, 0.5], "nice": false}, "axis": {"values": [0, 0.1, 0.2, 0.3, 0.4, 0.5], "format": ".1f", "title": "Fraction of proteome"}}, "yError": {"field": "err"}, "color": {"field": "cond", "type": "nominal", "legend": null}}},
        {"data": {"name": "pts"}, "transform": [{"filter": "datum.panel === 'F'"}], "mark": {"type": "point", "filled": true, "size": 36, "opacity": 1}, "encoding": {"x": {"field": "x", "type": "quantitative", "scale": {"domain": [0, 1.2], "nice": false, "zero": false}, "axis": {"values": [0, 0.3, 0.6, 0.9, 1.2], "format": ".1f", "title": "Growth rate λ (hour⁻¹)"}}, "y": {"field": "y", "type": "quantitative", "scale": {"domain": [0, 0.5], "nice": false}, "axis": {"values": [0, 0.1, 0.2, 0.3, 0.4, 0.5], "format": ".1f", "title": "Fraction of proteome"}}, "color": {"field": "cond", "type": "nominal", "legend": null}}},
        {"data": {"name": "heads"}, "transform": [{"filter": "datum.panel === 'F'"}], "mark": {"type": "text", "align": "right", "baseline": "alphabetic", "fontSize": 20, "clip": false}, "encoding": {"x": {"datum": 0.67, "type": "quantitative", "scale": {"domain": [0, 1.2], "nice": false, "zero": false}, "axis": {"values": [0, 0.3, 0.6, 0.9, 1.2], "format": ".1f", "title": "Growth rate λ (hour⁻¹)"}}, "y": {"datum": 0.531, "type": "quantitative", "scale": {"domain": [0, 0.5], "nice": false}, "axis": {"values": [0, 0.1, 0.2, 0.3, 0.4, 0.5], "format": ".1f", "title": "Fraction of proteome"}}, "text": {"field": "name", "type": "nominal"}}},
        {"data": {"name": "heads"}, "transform": [{"filter": "datum.panel === 'F'"}], "mark": {"type": "text", "align": "left", "baseline": "alphabetic", "fontSize": 14, "dx": 1, "dy": 4, "clip": false}, "encoding": {"x": {"datum": 0.67, "type": "quantitative", "scale": {"domain": [0, 1.2], "nice": false, "zero": false}, "axis": {"values": [0, 0.3, 0.6, 0.9, 1.2], "format": ".1f", "title": "Growth rate λ (hour⁻¹)"}}, "y": {"datum": 0.531, "type": "quantitative", "scale": {"domain": [0, 0.5], "nice": false}, "axis": {"values": [0, 0.1, 0.2, 0.3, 0.4, 0.5], "format": ".1f", "title": "Fraction of proteome"}}, "text": {"field": "sub", "type": "nominal"}}},
        {"data": {"name": "heads"}, "transform": [{"filter": "datum.panel === 'F'"}], "mark": {"type": "text", "align": "left", "baseline": "alphabetic", "fontSize": 20, "clip": false}, "encoding": {"x": {"datum": 0.76, "type": "quantitative", "scale": {"domain": [0, 1.2], "nice": false, "zero": false}, "axis": {"values": [0, 0.3, 0.6, 0.9, 1.2], "format": ".1f", "title": "Growth rate λ (hour⁻¹)"}}, "y": {"datum": 0.531, "type": "quantitative", "scale": {"domain": [0, 0.5], "nice": false}, "axis": {"values": [0, 0.1, 0.2, 0.3, 0.4, 0.5], "format": ".1f", "title": "Fraction of proteome"}}, "text": {"field": "n", "type": "nominal"}}}
      ]
    }
  ]
}
